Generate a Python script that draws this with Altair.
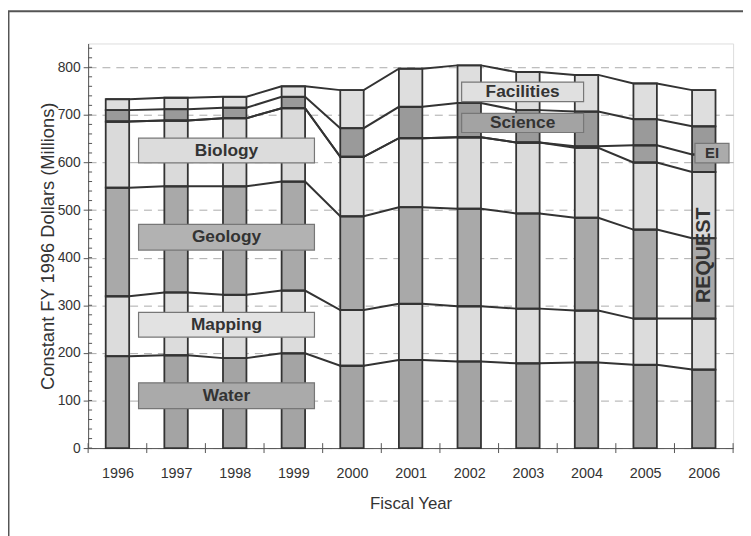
import altair as alt
import pandas as pd

years = [1996, 1997, 1998, 1999, 2000, 2001, 2002, 2003, 2004, 2005, 2006]
water = [193, 195, 189, 199, 173, 185, 182, 178, 180, 175, 165]
mapping = [126, 132, 133, 132, 117, 118, 116, 115, 109, 97, 107]
geology = [228, 223, 228, 229, 197, 203, 205, 200, 195, 187, 169]
biology = [139, 138, 143, 154, 125, 145, 150, 149, 147, 141, 139]
ei = [0, 0, 0, 0, 0, 0, 0, 0, 3, 36, 37]
science = [24, 24, 22, 24, 60, 66, 72, 68, 73, 55, 59]
facilities = [23, 24, 23, 22, 80, 80, 79, 80, 77, 75, 76]

series_names = ["Water", "Mapping", "Geology", "Biology", "EI", "Science", "Facilities"]
series_values = [water, mapping, geology, biology, ei, science, facilities]
series_fill = ["#a4a4a4", "#dcdcdc", "#a9a9a9", "#dadada", "#9e9e9e", "#9a9a9a", "#dedede"]

y_ticks = [0, 100, 200, 300, 400, 500, 600, 700, 800]
minor_ticks = list(range(0, 860, 20))
bounds = [y - 0.5 for y in years] + [years[-1] + 0.5]

# annotation boxes (label, x0, x1, y0, y1, fill, font size)
ann_label = ["Biology", "Geology", "Mapping", "Water", "Facilities", "Science", "EI"]
ann_x0 = [1996.36, 1996.36, 1996.36, 1996.36, 2001.87, 2001.87, 2005.85]
ann_x1 = [1999.36, 1999.36, 1999.36, 1999.36, 2003.95, 2003.95, 2006.43]
ann_y0 = [599, 416, 233, 83, 728, 663, 599]
ann_y1 = [651, 470, 285, 137, 769, 703, 640]
ann_fill = ["#dcdcdc", "#b2b2b2", "#e2e2e2", "#aaaaaa", "#e0e0e0", "#a3a3a3", "#ababab"]
ann_size = [17.5, 17.5, 17.5, 17.5, 17.5, 17.5, 15]

rows = []
for i, (name, vals) in enumerate(zip(series_names, series_values)):
    for yr, v in zip(years, vals):
        rows.append({"year": yr, "series": name, "value": v, "order": i})
df = pd.DataFrame(rows)

ann = pd.DataFrame({
    "label": ann_label, "x0": ann_x0, "x1": ann_x1, "y0": ann_y0, "y1": ann_y1,
    "fill": ann_fill, "size": ann_size,
})
ann["xc"] = (ann["x0"] + ann["x1"]) / 2
ann["yc"] = (ann["y0"] + ann["y1"]) / 2

FONT = "Liberation Sans"
xscale = alt.Scale(domain=[1995.5, 2006.5], nice=False, zero=False)
yscale = alt.Scale(domain=[0, 850], nice=False)

x_axis = alt.Axis(
    values=years, format="d", title="Fiscal Year", ticks=False, tickSize=0,
    grid=False, labelPadding=19, labelFontSize=14.5, labelColor="#333333",
    titleFontSize=17, titleFontWeight="normal", titleColor="#333333",
    titlePadding=16, domainColor="#555555", labelFont=FONT, titleFont=FONT)
y_axis = alt.Axis(
    values=y_ticks, title="Constant FY 1996 Dollars (Millions)", tickSize=5,
    tickColor="#555555", domainColor="#555555", labelPadding=3,
    labelFontSize=14, labelColor="#333333", titleFontSize=18.5,
    titleFontWeight="normal", titleColor="#333333", titlePadding=0,
    grid=True, gridDash=[8, 6], gridColor="#aaaaaa", gridWidth=1,
    labelFont=FONT, titleFont=FONT)


def X(field):
    return alt.X(field, scale=xscale, axis=x_axis)


def Y(field):
    return alt.Y(field, scale=yscale, axis=y_axis)


base = alt.Chart(df).transform_stack(
    stack="value", groupby=["year"], as_=["y0", "y1"],
    sort=[alt.SortField("order", order="ascending")]
).transform_calculate(xl="datum.year - 0.2", xr="datum.year + 0.2")

bars = base.mark_rect(stroke="#333333", strokeWidth=1.8).encode(
    x=X("xl:Q"), x2="xr:Q",
    y=Y("y0:Q"), y2="y1:Q",
    fill=alt.Fill("series:N", scale=alt.Scale(domain=series_names, range=series_fill), legend=None),
)

lines = base.transform_fold(["xl", "xr"], as_=["side", "xpos"]).mark_line(
    color="#333333", strokeWidth=2
).encode(
    x=X("xpos:Q"),
    y=Y("y1:Q"),
    detail="series:N",
    order="xpos:Q",
)

minor = alt.Chart(pd.DataFrame({"v": minor_ticks})).mark_rule(color="#555555", strokeWidth=1).encode(
    y=Y("v:Q"), x=alt.value(0), x2=alt.value(4)
)

xticks = alt.Chart(pd.DataFrame({"b": bounds})).mark_rule(color="#555555", strokeWidth=1).encode(
    x=X("b:Q"), y=alt.value(404), y2=alt.value(414)
)

ann_base = alt.Chart(ann)
boxes = ann_base.mark_rect(stroke="#777777", strokeWidth=1.2).encode(
    x=X("x0:Q"), x2="x1:Q",
    y=Y("y0:Q"), y2="y1:Q",
    fill=alt.Fill("fill:N", scale=None),
)
texts = ann_base.mark_text(font=FONT, fontWeight="bold", color="#333333", baseline="middle").encode(
    x=X("xc:Q"),
    y=Y("yc:Q"),
    text="label:N",
    size=alt.Size("size:Q", scale=None, legend=None),
)

request = alt.Chart(pd.DataFrame({"t": ["REQUEST"], "x": [2006], "y": [405]})).mark_text(
    font=FONT, fontWeight="bold", fontSize=20, angle=270, color="#333333", baseline="middle"
).encode(
    x=X("x:Q"),
    y=Y("y:Q"),
    text="t:N",
)

frame = alt.Chart(pd.DataFrame({"a": [0]})).mark_rect(
    fill=None, stroke="#555555", strokeWidth=2
).encode(
    x=alt.value(-80.5), x2=alt.value(700), y=alt.value(-32.5), y2=alt.value(520)
)

chart = alt.layer(bars, lines, xticks, minor, boxes, texts, request, frame).properties(
    width=652, height=409,
    autosize=alt.AutoSizeParams(type="none"),
    padding={"left": 81, "top": 33, "right": 10, "bottom": 86},
).configure_view(stroke=None).configure(font=FONT)

chart.save("out.html", embed_options={"renderer": "svg", "actions": False})
